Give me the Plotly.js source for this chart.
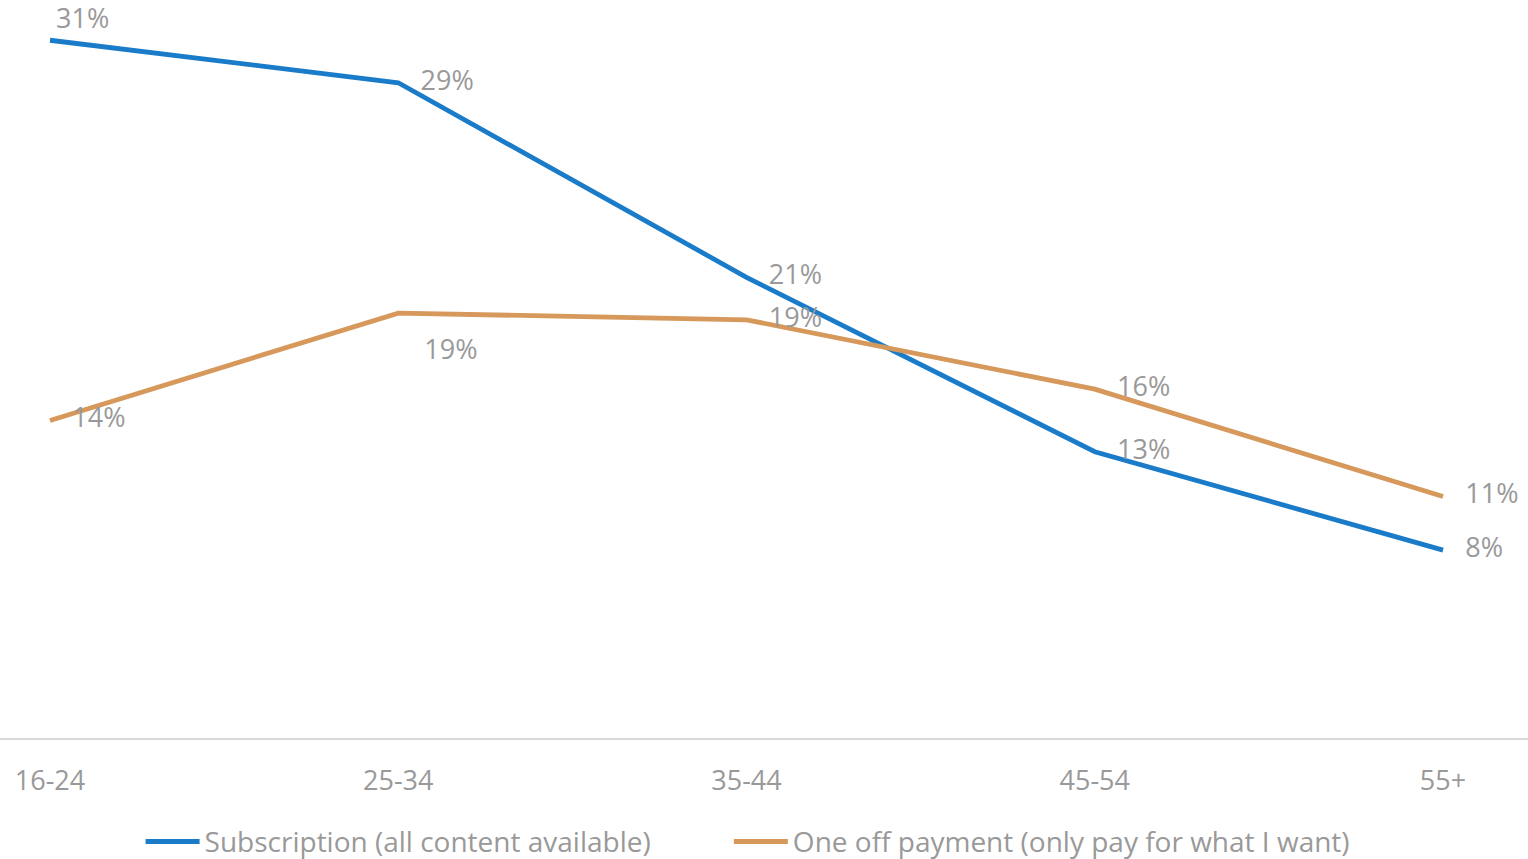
<!DOCTYPE html>
<html>
<head>
<meta charset="utf-8">
<script src="https://cdn.plot.ly/plotly-3.0.1.min.js"></script>
<style>html,body{margin:0;padding:0;background:#fff;}#chart{width:1528px;height:859px;}</style>
</head>
<body>
<div id="chart"></div>
<script>
const categories = ["16-24", "25-34", "35-44", "45-54", "55+"];
const subscription = [0.312, 0.293, 0.206, 0.128, 0.084];
const oneOff = [0.142, 0.190, 0.187, 0.156, 0.108];
const seriesNames = ["Subscription (all content available)", "One off payment (only pay for what I want)"];
const subLabelPos = ["top right", "middle right", "middle right", "middle right", "middle right"];
const oneLabelPos = ["middle right", "bottom right", "middle right", "middle right", "middle right"];

const FONT = "Open Sans, Liberation Sans, sans-serif";
const GREY = "#999999";
const labelFont = {family: FONT, size: 27, color: GREY};
const BLUE = "#1a7bc9", ORANGE = "#d6985b";

function pct(arr) { return arr.map(v => Math.round(v * 100) + "%"); }

const traces = [
  {
    x: categories, y: subscription, name: seriesNames[0], type: "scatter",
    mode: "lines", line: {color: BLUE, width: 4.8}, hoverinfo: "skip",
    legend: "legend"
  },
  {
    x: categories, y: oneOff, name: seriesNames[1], type: "scatter",
    mode: "lines", line: {color: ORANGE, width: 4.8}, hoverinfo: "skip",
    legend: "legend2"
  },
  {
    x: categories, y: subscription, type: "scatter", showlegend: false,
    mode: "markers+text",
    marker: {size: [8, 34, 34, 34, 34], opacity: 0, color: BLUE},
    text: pct(subscription), textposition: subLabelPos, textfont: labelFont,
    cliponaxis: false, hoverinfo: "skip"
  },
  {
    x: categories, y: oneOff, type: "scatter", showlegend: false,
    mode: "markers+text",
    marker: {size: [34, 40, 34, 34, 34], opacity: 0, color: ORANGE},
    text: pct(oneOff), textposition: oneLabelPos, textfont: labelFont,
    cliponaxis: false, hoverinfo: "skip"
  }
];

const legendBase = {
  orientation: "h", xanchor: "left",
  yref: "container", y: 0.02, yanchor: "middle",
  font: {family: FONT, size: 28, color: GREY},
  itemwidth: 54,
  itemclick: false, bgcolor: "rgba(0,0,0,0)"
};

const layout = {
  width: 1528, height: 859,
  margin: {l: 0, r: 0, t: 0, b: 121, pad: 0},
  paper_bgcolor: "#ffffff", plot_bgcolor: "#ffffff",
  font: {family: FONT, size: 27, color: GREY},
  showlegend: true,
  legend: Object.assign({}, legendBase, {x: 0.092}),
  legend2: Object.assign({}, legendBase, {x: 0.477}),
  xaxis: {
    type: "category", range: [-0.1436, 4.244],
    showgrid: false, zeroline: false,
    showline: true, linecolor: "#d9d9d9", linewidth: 2,
    ticks: "", ticklabelstandoff: 18,
    tickfont: {family: FONT, size: 27, color: GREY},
    fixedrange: true
  },
  yaxis: {
    range: [0, 0.33], showgrid: false, zeroline: false, showline: false,
    showticklabels: false, ticks: "", fixedrange: true
  }
};

Plotly.newPlot("chart", traces, layout, {displayModeBar: false, staticPlot: true});
</script>
</body>
</html>
